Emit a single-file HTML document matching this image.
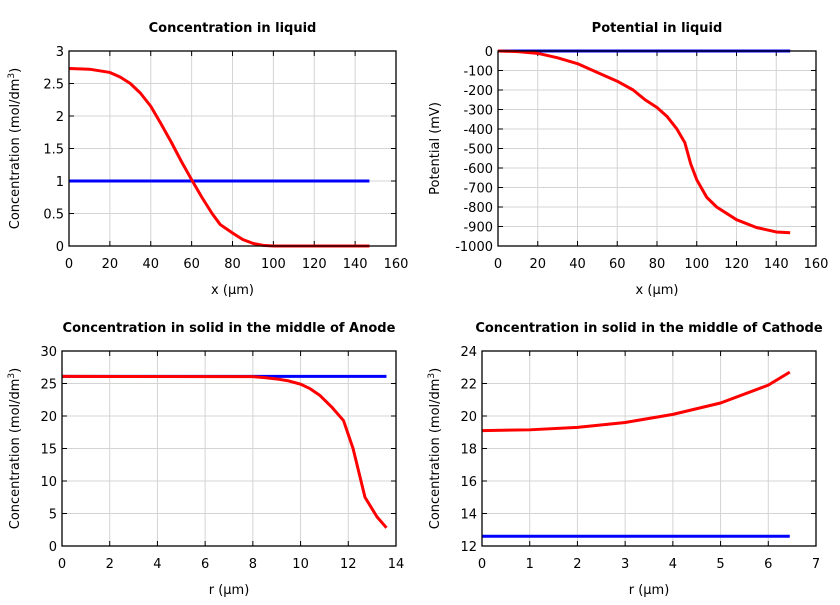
<!DOCTYPE html>
<html><head><meta charset="utf-8"><style>
body{margin:0;background:#fff;width:840px;height:600px;overflow:hidden;font-family:"Liberation Sans","DejaVu Sans",sans-serif}
svg text{font-family:"DejaVu Sans","Liberation Sans",sans-serif}
</style></head><body>
<svg id="c" width="840" height="600"></svg>
<script>
const p1x=[0,10,20,25,30,35,40,45,50,55,60,65,70,74,80,85,90,95,100,147];
const p1red=[2.73,2.72,2.67,2.6,2.5,2.35,2.15,1.88,1.6,1.3,1.02,0.75,0.5,0.33,0.2,0.1,0.04,0.01,0,0];
const p1blueX=[0,147];const p1blue=[1,1];
const p2x=[0,10,20,30,40,50,60,68,74,80,85,90,94,97,100,105,110,120,130,140,147];
const p2red=[0,-3,-12,-35,-65,-110,-155,-200,-250,-290,-335,-400,-470,-580,-660,-750,-800,-865,-905,-928,-932];
const p2blueX=[0,147];const p2blue=[0,0];
const p3x=[0,8,8.5,9,9.5,10,10.4,10.8,11.3,11.8,12.2,12.7,13.2,13.6];
const p3red=[26.1,26.05,25.9,25.7,25.4,24.9,24.2,23.2,21.4,19.3,15,7.5,4.5,2.8];
const p3blueX=[0,13.6];const p3blue=[26.1,26.1];
const p4x=[0,1,2,3,4,5,6,6.45];
const p4red=[19.1,19.15,19.3,19.6,20.1,20.8,21.9,22.7];
const p4blueX=[0,6.45];const p4blue=[12.6,12.6];
const xt1=[0,20,40,60,80,100,120,140,160];
const yt1=[0,0.5,1,1.5,2,2.5,3];
const yt2=[0,-100,-200,-300,-400,-500,-600,-700,-800,-900,-1000];
const xt3=[0,2,4,6,8,10,12,14];
const yt3=[0,5,10,15,20,25,30];
const xt4=[0,1,2,3,4,5,6,7];
const yt4=[12,14,16,18,20,22,24];
const NS="http://www.w3.org/2000/svg";
const svg=document.getElementById('c');
function mk(t,a,p){const e=document.createElementNS(NS,t);for(const k in a)e.setAttribute(k,a[k]);(p||svg).appendChild(e);return e;}
function plot(o){
 const g=mk('g',{});
 
 
 const X=v=>o.L+(v-o.xmin)/(o.xmax-o.xmin)*(o.R-o.L);
 const Y=v=>o.B-(v-o.ymin)/(o.ymax-o.ymin)*(o.B-o.T);
 o.xt.forEach(v=>{const x=X(v);
  mk('line',{x1:x,x2:x,y1:o.T,y2:o.B,stroke:'#d4d4d4','stroke-width':1},g);
  mk('line',{x1:x,x2:x,y1:o.B,y2:o.B-5,stroke:'#000'},g);mk('line',{x1:x,x2:x,y1:o.T,y2:o.T+5,stroke:'#000'},g);
  const t=mk('text',{x:x,y:o.B+22,'text-anchor':'middle','font-size':13},g);t.textContent=v;
  
  });
 o.yt.forEach(v=>{const y=Y(v);
  mk('line',{x1:o.L,x2:o.R,y1:y,y2:y,stroke:'#d4d4d4','stroke-width':1},g);
  mk('line',{x1:o.L,x2:o.L+5,y1:y,y2:y,stroke:'#000'},g);mk('line',{x1:o.R,x2:o.R-5,y1:y,y2:y,stroke:'#000'},g);
  const t=mk('text',{x:o.L-5,y:y+5,'text-anchor':'end','font-size':13},g);t.textContent=v;
  
  });
 const line=(xs,ys,c,n)=>{const p=mk('polyline',{points:xs.map((x,i)=>X(x)+','+Y(ys[i])).join(' '),fill:'none',stroke:c,'stroke-width':3,'stroke-linejoin':'round'},g);
  
  };
 line(o.bx,o.by,'#0000ff','blue-series');
 line(o.rx,o.ry,'#ff0000','red-series');
 mk('rect',{x:o.L,y:o.T,width:o.R-o.L,height:o.B-o.T,fill:'none',stroke:'#000','stroke-width':1.3},g);
 const tt=mk('text',{x:(o.L+o.R)/2,y:o.T-19,'text-anchor':'middle','font-size':13,'font-weight':'bold'},g);tt.textContent=o.title;
 
 
 const xl=mk('text',{x:(o.L+o.R)/2,y:o.B+48,'text-anchor':'middle','font-size':13},g);xl.textContent=o.xlab;
 
 
 const yl=mk('text',{x:0,y:0,'text-anchor':'middle','font-size':13,transform:`translate(${o.yx},${(o.T+o.B)/2}) rotate(-90)`},g);
 yl.innerHTML=o.ylab;
 
 
}
const conc='Concentration (mol/dm<tspan dy="-5" font-size="9">3</tspan><tspan dy="5">)</tspan>';
plot({name:'plot-concentration-liquid',L:69,R:396,T:51,B:246,xmin:0,xmax:160,ymin:0,ymax:3,xt:xt1,yt:yt1,rx:p1x,ry:p1red,bx:p1blueX,by:p1blue,title:'Concentration in liquid',xlab:'x (µm)',ylab:conc,yx:19});
plot({name:'plot-potential-liquid',L:498,R:816,T:51,B:246,xmin:0,xmax:160,ymin:-1000,ymax:0,xt:xt1,yt:yt2,rx:p2x,ry:p2red,bx:p2blueX,by:p2blue,title:'Potential in liquid',xlab:'x (µm)',ylab:'Potential (mV)',yx:439});
plot({name:'plot-solid-anode',L:62,R:396,T:351,B:546,xmin:0,xmax:14,ymin:0,ymax:30,xt:xt3,yt:yt3,rx:p3x,ry:p3red,bx:p3blueX,by:p3blue,title:'Concentration in solid in the middle of Anode',xlab:'r (µm)',ylab:conc,yx:19});
plot({name:'plot-solid-cathode',L:482,R:816,T:351,B:546,xmin:0,xmax:7,ymin:12,ymax:24,xt:xt4,yt:yt4,rx:p4x,ry:p4red,bx:p4blueX,by:p4blue,title:'Concentration in solid in the middle of Cathode',xlab:'r (µm)',ylab:conc,yx:439});
</script>
</body></html>
